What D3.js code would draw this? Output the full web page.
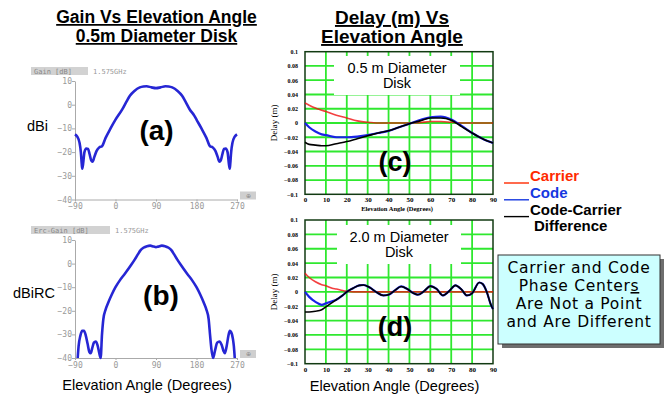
<!DOCTYPE html>
<html>
<head>
<meta charset="utf-8">
<script src="https://cdn.jsdelivr.net/npm/d3@7"></script>
<style>
  body { margin: 0; background: #fff; }
  svg { display: block; }
</style>
</head>
<body>
<script>
// ---- gain patterns (degrees -> dB) ----
const gainADeg = [-90,-85,-80,-77,-75,-74,-72,-69,-65,-61,-58,-54,-51,-47,-42,-36,-30,-22,-11,0,15,25,32,42,54,62,69,80,90,100,111,118,126,138,148,155,165,175,180,191,202,210,216,222,227,231,234,238,241,245,249,252,254,255,257,260,265,270];
const gainAVal = [-12.5,-13.5,-16,-20,-25,-27,-25,-20,-18.5,-18.7,-20.5,-23.5,-24,-22,-19.5,-18,-17.5,-14,-10,-6.3,-2,1.5,3.8,5.8,7.3,7.7,7.8,7.3,7.0,7.3,7.8,7.7,7.3,5.8,3.8,1.5,-2,-4.6,-6.3,-10,-14,-17.5,-18,-19.5,-22,-24,-23.5,-20.5,-18.7,-18.5,-20,-25,-27,-25,-20,-16,-13.5,-12.5];

const gainBDeg = [-84,-82,-78,-74,-70,-66,-62,-58,-55,-52,-48,-44,-40,-36,-33,-30,-27,-22,-16,-8,0,10,20,35,43,50,55,62,70,77,85,90,95,103,110,118,125,130,137,145,160,170,180,188,196,202,207,210,213,217,221,226,231,236,240,243,247,251,254,257,261,263,265];
const gainBVal = [-40,-35,-30.5,-28.5,-28.5,-30.5,-34,-37.5,-38,-36,-33.5,-33,-34.5,-38,-40,-30,-23.5,-19.5,-16.5,-13,-10,-7,-4.5,-0.5,1.8,4,5.5,6.7,7.4,7.6,7.2,7.0,7.2,7.6,7.4,6.7,5.5,4,1.8,-0.5,-4.5,-7,-10,-13,-16.5,-19.5,-23.5,-30,-36,-40,-37,-33.5,-33,-34.5,-37,-38,-35,-30.5,-28.5,-29,-32,-35,-40];

const gainXTicks = [-90, 0, 90, 180, 270];
const gainYTicks = [10, 0, -10, -20, -30, -40];

// ---- delay (m) vs elevation angle (degrees) ----
const degC     = [0,2,5,8,10,15,20,25,30,35,40,45,50,55,60,65,70,75,80,85,90];
const carrierC = [0.028,0.025,0.021,0.018,0.016,0.011,0.007,0.003,0.001,0,0,0,0,0.0005,0.002,0.002,0.001,0,0,0,0];
const codeC    = [0,-0.006,-0.012,-0.016,-0.017,-0.02,-0.02,-0.019,-0.017,-0.014,-0.011,-0.006,-0.001,0.004,0.008,0.009,0.005,-0.004,-0.014,-0.022,-0.028];
const diffC    = [-0.027,-0.03,-0.031,-0.032,-0.032,-0.029,-0.026,-0.022,-0.018,-0.014,-0.011,-0.006,-0.001,0.003,0.007,0.007,0.004,-0.005,-0.014,-0.022,-0.028];

const degD     = [0,2,5,8,10,13,15,18,20,23,26,28,31,34,37.5,40,43,46,49,52,54,57,60,63,66,69,72,75,77.5,80,83.4,85,87,89,90];
const carrierD = [0.026,0.02,0.014,0.01,0.0085,0.005,0.004,0.002,0.001,0,0,0,0,0,0,0,0,0,0,0,0,0,0,0,0,0,0,0,0,0,0,0,0,0,0];
const codeD    = [0,-0.007,-0.014,-0.018,-0.016,-0.013,-0.011,-0.005,0,0.005,0.009,0.0095,0.006,0,-0.005,-0.004,0.002,0.0075,0.004,-0.002,-0.004,0.001,0.008,0.004,-0.005,0.001,0.009,0.003,-0.005,-0.002,0.013,0.011,0,-0.018,-0.024];
const diffD    = [-0.028,-0.028,-0.027,-0.025,-0.021,-0.015,-0.011,-0.005,0,0.005,0.009,0.0095,0.006,0,-0.005,-0.004,0.002,0.0075,0.004,-0.002,-0.004,0.001,0.008,0.004,-0.005,0.001,0.009,0.003,-0.005,-0.002,0.013,0.011,0,-0.018,-0.024];

const delayXTicks = [0,10,20,30,40,50,60,70,80,90];
const delayYTicks = [0.1,0.08,0.06,0.04,0.02,0,-0.02,-0.04,-0.06,-0.08,-0.1];

const legendNames = ["Carrier", "Code", "Code-Carrier"];
const legendColors = ["#ff2a00", "#1638e0", "#000"];

const sans = "'Liberation Sans', Arial, sans-serif";
const serif = "'Liberation Serif', 'Times New Roman', serif";
const mono = "'DejaVu Sans Mono', monospace";

const svg = d3.select("body").append("svg")
  .attr("width", 672)
  .attr("height", 394)
  .attr("viewBox", [0, 0, 672, 394]);

// titles
function title(lines, cx, baselines, size) {
  lines.forEach((t, i) => {
    svg.append("text")
      .attr("x", cx).attr("y", baselines[i])
      .attr("text-anchor", "middle")
      .attr("font-family", sans).attr("font-weight", "bold")
      .attr("font-size", size)
      .attr("text-decoration", "underline")
      .text(t);
  });
}
title(["Gain Vs Elevation Angle", "0.5m Diameter Disk"], 156.5, [23, 42], 17.5);
title(["Delay (m) Vs", "Elevation Angle"], 392, [24, 43], 19);

// ---- gain panels ----
function gainPanel(top, bottom, degs, vals, header, headerW, sideLabel, sideX, sideY, tag, tagX, tagY) {
  const x = d3.scaleLinear().domain([-90, 270]).range([75, 237]);
  const y = d3.scaleLinear().domain([-40, 10]).range([bottom, top]);
  const g = svg.append("g");

  const styleAxis = a => {
    a.select(".domain").attr("stroke", "#aaa");
    a.selectAll(".tick line").attr("stroke", "#aaa");
    a.selectAll(".tick text").attr("fill", "#999").attr("font-family", mono).attr("font-size", 8);
  };
  g.append("g")
    .attr("transform", `translate(75,0)`)
    .call(d3.axisLeft(y).tickValues(gainYTicks).tickSize(3).tickSizeOuter(0).tickPadding(0))
    .call(styleAxis);
  g.append("g")
    .attr("transform", `translate(0,${bottom})`)
    .call(d3.axisBottom(x).tickValues(gainXTicks).tickSize(2).tickSizeOuter(0).tickPadding(2))
    .call(styleAxis);

  // header tag
  g.append("rect").attr("x", 31).attr("y", top - 14).attr("width", headerW).attr("height", 8).attr("fill", "#d2d2d2");
  g.append("text").attr("x", 34).attr("y", top - 7.5)
    .attr("font-family", mono).attr("font-size", 7).attr("fill", "#888").text(header);
  g.append("text").attr("x", 31 + headerW + 5).attr("y", top - 7.5)
    .attr("font-family", mono).attr("font-size", 7).attr("fill", "#999").text("1.575GHz");

  // small icon box at the right end of the x axis
  g.append("rect").attr("x", 240).attr("y", bottom - 8).attr("width", 16).attr("height", 8).attr("fill", "#cfcfcf");
  g.append("text").attr("x", 248).attr("y", bottom - 1.8).attr("text-anchor", "middle")
    .attr("font-family", sans).attr("font-size", 6).attr("fill", "#888").text("⊕");

  const line = d3.line().x((d, i) => x(degs[i])).y(d => y(d)).curve(d3.curveMonotoneX);
  g.append("path").datum(vals)
    .attr("fill", "none").attr("stroke", "#2626d4").attr("stroke-width", 2.6)
    .attr("stroke-linejoin", "round").attr("d", line);

  g.append("text").attr("x", sideX).attr("y", sideY)
    .attr("font-family", sans).attr("font-size", 14.5).text(sideLabel);
  g.append("text").attr("x", tagX).attr("y", tagY).attr("text-anchor", "middle")
    .attr("font-family", sans).attr("font-weight", "bold").attr("font-size", 28).text(tag);
}
gainPanel(81, 199.5, gainADeg, gainAVal, "Gain [dB]", 57, "dBi", 27, 130.5, "(a)", 156.5, 140);
gainPanel(240, 358, gainBDeg, gainBVal, "Erc-Gain [dB]", 79, "dBiRC", 13, 298, "(b)", 161, 305);

svg.append("text").attr("x", 147).attr("y", 390).attr("text-anchor", "middle")
  .attr("font-family", sans).attr("font-size", 14.6).text("Elevation Angle (Degrees)");

// ---- delay panels ----
function delayPanel(top, bottom, degs, carrier, code, diff, box, boxLines, tag, tagY) {
  const x = d3.scaleLinear().domain([0, 90]).range([305, 493]);
  const y = d3.scaleLinear().domain([-0.1, 0.1]).range([bottom, top]);
  const g = svg.append("g");

  // green grid
  g.append("g").selectAll("line")
    .data(delayXTicks.filter(d => d > 0 && d < 90))
    .join("line")
    .attr("x1", d => x(d)).attr("x2", d => x(d)).attr("y1", top).attr("y2", bottom)
    .attr("stroke", "#2fe82f").attr("stroke-width", 1.8);
  g.append("g").selectAll("line")
    .data(delayYTicks.filter(d => Math.abs(d) < 0.099))
    .join("line")
    .attr("x1", x(0)).attr("x2", x(90)).attr("y1", d => y(d)).attr("y2", d => y(d))
    .attr("stroke", "#2fe82f").attr("stroke-width", 1.8);

  // white label box over the grid
  g.append("rect").attr("x", box[0]).attr("y", box[1]).attr("width", box[2]).attr("height", box[3]).attr("fill", "#fff");
  boxLines.forEach((t, i) => {
    g.append("text").attr("x", box[0] + box[2] / 2).attr("y", box[1] + 16.5 + i * 15.5)
      .attr("text-anchor", "middle").attr("font-family", sans).attr("font-size", 14.5).text(t);
  });

  g.append("rect").attr("x", x(0)).attr("y", top).attr("width", x(90) - x(0)).attr("height", bottom - top)
    .attr("fill", "none").attr("stroke", "#123a12").attr("stroke-width", 1.5);

  // axes labels
  const fmt = v => v === 0 ? "0" : (v < 0 ? "\u2212" : "") + String(+Math.abs(v).toFixed(2));
  g.append("g")
    .attr("transform", `translate(${x(0) - 7},0)`)
    .call(d3.axisLeft(y).tickValues(delayYTicks).tickSize(0).tickPadding(0).tickFormat(fmt))
    .call(a => a.select(".domain").remove())
    .call(a => a.selectAll("text").attr("font-family", serif).attr("font-weight", "bold").attr("font-size", 6).attr("fill", "#000"));
  g.append("g")
    .attr("transform", `translate(0,${bottom + 3})`)
    .call(d3.axisBottom(x).tickValues(delayXTicks).tickSize(0).tickPadding(0))
    .call(a => a.select(".domain").remove())
    .call(a => a.selectAll("text").attr("font-family", serif).attr("font-weight", "bold").attr("font-size", 7).attr("fill", "#000"));
  g.append("text")
    .attr("transform", `translate(277,${(top + bottom) / 2}) rotate(-90)`)
    .attr("text-anchor", "middle").attr("font-family", serif).attr("font-size", 9).text("Delay (m)");

  const line = vals => d3.line().x((d, i) => x(degs[i])).y(d => y(d)).curve(d3.curveMonotoneX)(vals);
  g.append("path").attr("d", line(carrier)).attr("fill", "none")
    .attr("stroke", "#f01010").attr("stroke-opacity", 0.8).attr("stroke-width", 1.6);
  g.append("path").attr("d", line(code)).attr("fill", "none")
    .attr("stroke", "#1a22e6").attr("stroke-width", 2.2);
  g.append("path").attr("d", line(diff)).attr("fill", "none")
    .attr("stroke", "#000").attr("stroke-width", 1.6);

  g.append("text").attr("x", 395).attr("y", tagY).attr("text-anchor", "middle")
    .attr("font-family", sans).attr("font-weight", "bold").attr("font-size", 27).text(tag);
}
delayPanel(51.7, 194.3, degC, carrierC, codeC, diffC, [334, 56, 126, 39], ["0.5 m Diameter", "Disk"], "(c)", 170.5);
delayPanel(220, 363.7, degD, carrierD, codeD, diffD, [337, 225, 124, 39], ["2.0 m Diameter", "Disk"], "(d)", 336);

svg.append("text").attr("x", 397).attr("y", 210.5).attr("text-anchor", "middle")
  .attr("font-family", serif).attr("font-weight", "bold").attr("font-size", 6.5).text("Elevation Angle (Degrees)");
svg.append("text").attr("x", 394.5).attr("y", 391).attr("text-anchor", "middle")
  .attr("font-family", sans).attr("font-size", 14.6).text("Elevation Angle (Degrees)");

// ---- legend ----
legendNames.forEach((n, i) => {
  const yy = 181 + i * 16.8;
  svg.append("line").attr("x1", 504).attr("x2", 529).attr("y1", yy + 2).attr("y2", yy + 2)
    .attr("stroke", legendColors[i]).attr("stroke-width", 1.4);
  svg.append("text").attr("x", 530).attr("y", yy)
    .attr("font-family", sans).attr("font-weight", "bold").attr("font-size", 15)
    .attr("fill", legendColors[i]).text(n);
});
svg.append("text").attr("x", 534).attr("y", 230.5)
  .attr("font-family", sans).attr("font-weight", "bold").attr("font-size", 15).text("Difference");

// ---- note box ----
svg.append("rect").attr("x", 502).attr("y", 259).attr("width", 162).attr("height", 89).attr("fill", "#6e6e6e");
svg.append("rect").attr("x", 498).attr("y", 255).attr("width", 162).attr("height", 89)
  .attr("fill", "#ccffff").attr("stroke", "#333").attr("stroke-width", 1);
const note = svg.append("g")
  .attr("font-family", "'DejaVu Sans', sans-serif").attr("font-size", 15.5)
  .attr("letter-spacing", 0.7).attr("text-anchor", "middle");
note.append("text").attr("x", 579).attr("y", 273).text("Carrier and Code");
const l2 = note.append("text").attr("x", 579).attr("y", 291);
l2.append("tspan").text("Phase Center");
l2.append("tspan").attr("text-decoration", "underline").text("s");
note.append("text").attr("x", 579).attr("y", 309).text("Are Not a Point");
note.append("text").attr("x", 579).attr("y", 327).text("and Are Different");
</script>
</body>
</html>
